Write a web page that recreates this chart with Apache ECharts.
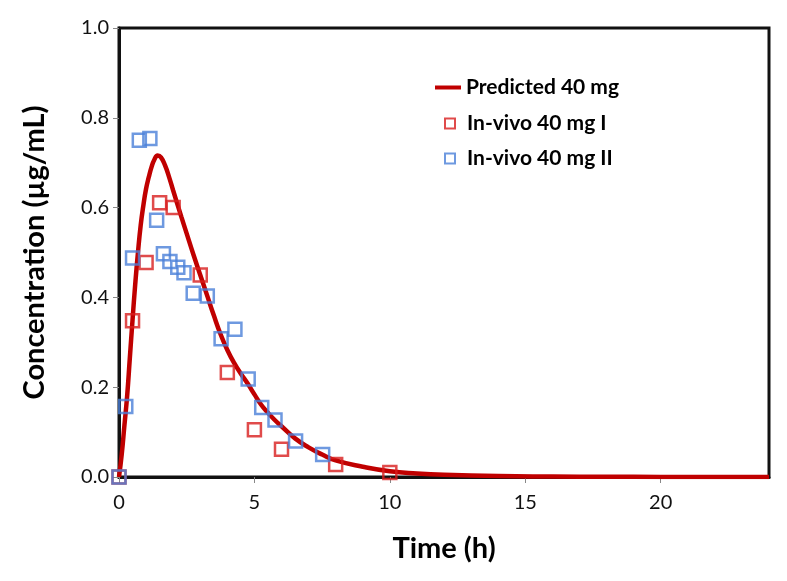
<!DOCTYPE html>
<html>
<head>
<meta charset="utf-8">
<script src="https://cdn.jsdelivr.net/npm/echarts@6/dist/echarts.min.js"></script>
<style>
  html, body { margin: 0; padding: 0; background: #fff; }
  #chart { width: 787px; height: 581px; }
</style>
</head>
<body>
<div id="chart"></div>
<script type="application/javascript">
// predicted profile
const predTime = [0, 0.1, 0.2, 0.3, 0.4, 0.5, 0.6, 0.7, 0.8, 0.9, 1.0, 1.1, 1.2, 1.3, 1.43, 1.55, 1.7, 1.85, 2.0,
  2.3, 2.5, 2.75, 3.0, 3.25, 3.5, 3.75, 4.0, 4.25, 4.5, 4.75, 5.0, 5.25, 5.5, 5.75, 6.0, 6.5, 7.0, 7.5, 8.0,
  9.0, 10, 11, 12, 14, 16, 18, 20, 24];
const predConc = [0, 0.05, 0.115, 0.18, 0.265, 0.35, 0.43, 0.50, 0.56, 0.605, 0.642, 0.668, 0.69, 0.706, 0.716, 0.712, 0.694, 0.668, 0.638,
  0.58, 0.542, 0.495, 0.45, 0.405, 0.36, 0.318, 0.283, 0.254, 0.23, 0.208, 0.184, 0.161, 0.143, 0.127, 0.113, 0.086, 0.066, 0.05, 0.037,
  0.023, 0.013, 0.008, 0.005, 0.002, 0.001, 0.0005, 0.0002, 0];

// in-vivo subject I
const vivo1Time = [0, 0.5, 1.0, 1.5, 2.0, 3.0, 4.0, 5.0, 6.0, 8.0, 10];
const vivo1Conc = [0, 0.348, 0.478, 0.611, 0.600, 0.450, 0.233, 0.105, 0.062, 0.028, 0.010];

// in-vivo subject II
const vivo2Time = [0, 0.25, 0.5, 0.75, 1.14, 1.39, 1.64, 1.88, 2.17, 2.4, 2.74, 3.26, 3.77, 4.28, 4.77, 5.27, 5.76, 6.52, 7.52];
const vivo2Conc = [0, 0.157, 0.488, 0.750, 0.754, 0.572, 0.497, 0.480, 0.467, 0.455, 0.409, 0.403, 0.308, 0.329, 0.218, 0.155, 0.127, 0.080, 0.050];

const seriesNames = ['Predicted 40 mg', 'In-vivo 40 mg I', 'In-vivo 40 mg II'];

const pairs = (xs, ys) => xs.map((x, i) => [x, ys[i]]);

const chart = echarts.init(document.getElementById('chart'));
const FONT = 'Lato, "Open Sans", sans-serif';

function squareSerie(name, data, color) {
  return {
    name,
    type: 'scatter',
    symbol: 'rect',
    symbolSize: 13,
    data,
    itemStyle: {
      color: 'rgba(0,0,0,0)',
      borderColor: color,
      borderWidth: 2.5
    },
    z: 3
  };
}

const legendText = { fontFamily: FONT, fontWeight: 'bold', fontSize: 21, color: '#000' };

const option = {
  animation: false,
  backgroundColor: '#fff',
  grid: {
    left: 119,
    top: 28,
    width: 650,
    height: 449,
    show: true,
    borderColor: '#111',
    borderWidth: 3,
    backgroundColor: '#fff'
  },
  legend: [
    {
      data: [{ name: seriesNames[0], icon: 'rect' }],
      left: 435,
      top: 77,
      padding: 0,
      itemWidth: 26,
      itemHeight: 4,
      textStyle: legendText
    },
    {
      data: [seriesNames[1], seriesNames[2]],
      orient: 'vertical',
      left: 444,
      top: 113,
      padding: 0,
      itemGap: 14,
      itemWidth: 10,
      itemHeight: 10,
      icon: 'rect',
      textStyle: Object.assign({ padding: [0, 0, 0, 7] }, legendText)
    }
  ],
  xAxis: {
    type: 'value',
    min: 0,
    max: 24,
    interval: 5,
    name: 'Time (h)',
    nameLocation: 'middle',
    nameGap: 57,
    nameTextStyle: { fontFamily: FONT, fontWeight: 'bold', fontSize: 29, color: '#000' },
    axisLine: { show: true, lineStyle: { color: '#111', width: 3 } },
    axisTick: { show: true, length: 6, lineStyle: { color: '#888' } },
    axisLabel: { margin: 16, fontFamily: FONT, fontSize: 20, color: '#111', showMaxLabel: false },
    splitLine: { show: false }
  },
  yAxis: {
    type: 'value',
    min: 0,
    max: 1,
    interval: 0.2,
    name: 'Concentration (µg/mL)',
    nameLocation: 'middle',
    nameGap: 70,
    nameTextStyle: { fontFamily: FONT, fontWeight: 'bold', fontSize: 29, color: '#000' },
    axisLine: { show: true, lineStyle: { color: '#111', width: 3 } },
    axisTick: { show: true, length: 6, lineStyle: { color: '#888' } },
    axisLabel: { margin: 10, fontFamily: FONT, fontSize: 20, color: '#111', formatter: v => v.toFixed(1) },
    splitLine: { show: false }
  },
  series: [
    {
      name: seriesNames[0],
      type: 'line',
      smooth: 0.5,
      showSymbol: false,
      symbol: 'none',
      data: pairs(predTime, predConc),
      lineStyle: { color: '#C00000', width: 4.5 },
      itemStyle: { color: '#C00000' },
      z: 2
    },
    squareSerie(seriesNames[1], pairs(vivo1Time, vivo1Conc), '#D81E1E'),
    squareSerie(seriesNames[2], pairs(vivo2Time, vivo2Conc), '#4A80D8')
  ]
};

chart.setOption(option);
</script>
</body>
</html>
